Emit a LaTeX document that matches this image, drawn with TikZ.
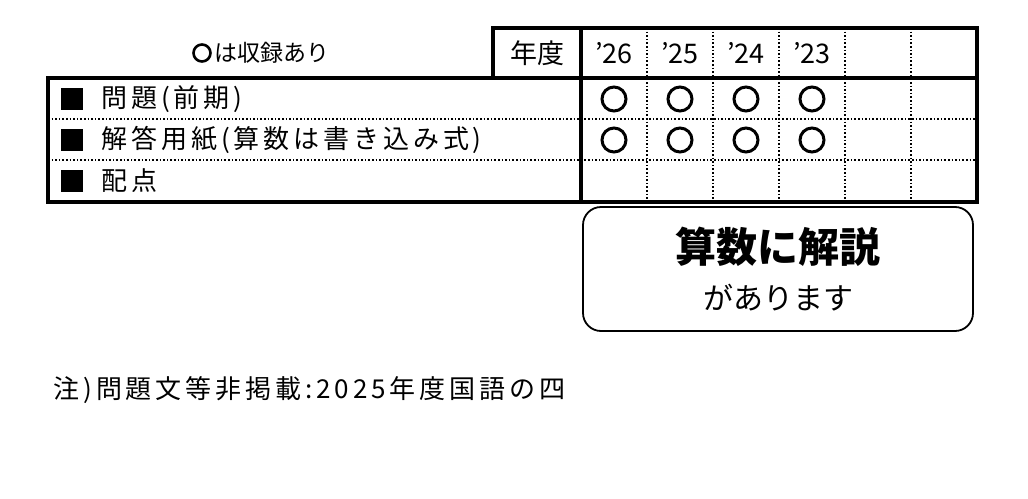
\documentclass[tikz,border=0pt]{standalone}
\usepackage{fontspec}
\setmainfont{Noto Sans CJK JP}
\begin{document}
\begin{tikzpicture}[x=1pt,y=-1pt,
  thickl/.style={line width=3.2pt},
  dotl/.style={line width=1.6pt,dotted},
  mk/.style={circle,draw,line width=3pt,minimum size=24pt,inner sep=0pt},
  sq/.style={fill=black,minimum size=22pt,inner sep=0pt},
  lbl/.style={anchor=west,font=\fontsize{26pt}{26pt}\selectfont\addfontfeature{LetterSpace=15}},
  yr/.style={font=\fontsize{27pt}{27pt}\selectfont}]
\useasboundingbox (0,0) rectangle (1028,498);
\foreach \x in {647,713,779,845,911}{\draw[dotl] (\x,28) -- (\x,202);}
\draw[dotl] (48,119) -- (977,119);
\draw[dotl] (48,160) -- (977,160);
\draw[thickl] (493,28) rectangle (581,78);
\draw[thickl] (581,28) rectangle (977,78);
\draw[thickl] (48,78) rectangle (977,202);
\draw[thickl] (581,78) -- (581,202);
\node[yr] (nd) at (537,53) {年度};
\node[yr] (y26) at (614,53) {'26};
\node[yr] (y25) at (680,53) {'25};
\node[yr] (y24) at (746,53) {'24};
\node[yr] (y23) at (812,53) {'23};
\node[circle,draw,line width=2.6pt,minimum size=17pt,inner sep=0pt] (lc) at (202,53) {};
\node[anchor=west,font=\fontsize{23pt}{23pt}\selectfont] (legend) at (211,53) {は収録あり};
\foreach \y/\t [count=\i] in {99/問題(前期),140/解答用紙(算数は書き込み式),181/配点}{
  \node[sq] (s\i) at (72,\y) {};
  \node[lbl] (l\i) at (98,\y) {\t};
}
\foreach \x in {614,680,746,812}{
  \node[mk] at (\x,99) {};
  \node[mk] at (\x,140) {};
}
\draw[line width=1.8pt,rounded corners=18pt] (583,207) rectangle (973,331);
\node[font=\bfseries\fontsize{41pt}{41pt}\selectfont] (b1) at (778,247) {算数に解説};
\node[font=\fontsize{30pt}{30pt}\selectfont] (b2) at (778,298) {があります};
\node[anchor=west,font=\fontsize{26pt}{26pt}\selectfont\addfontfeature{LetterSpace=15}] (note) at (50,390) {注)問題文等非掲載:2025年度国語の四};
\end{tikzpicture}
\end{document}
